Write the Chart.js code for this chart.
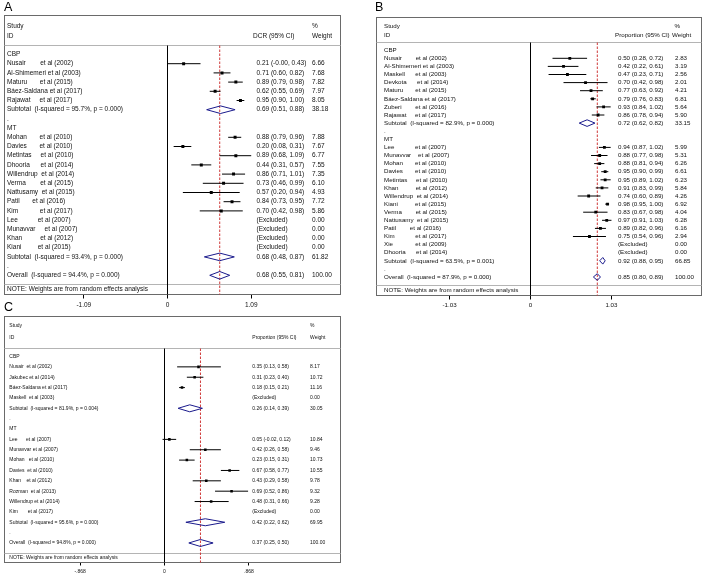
<!DOCTYPE html>
<html><head><meta charset="utf-8">
<script src="https://cdn.jsdelivr.net/npm/chart.js@4"></script>
<style>
html,body{margin:0;padding:0;background:#fff;width:704px;height:576px;overflow:hidden}
canvas{position:absolute;left:0;top:0;width:704px;height:576px}
</style></head><body>
<canvas id="cA" width="704" height="576"></canvas>
<canvas id="cB" width="704" height="576"></canvas>
<canvas id="cC" width="704" height="576"></canvas>
<script>
// ================= DATA =================
// Panel A : DCR
const aLabels = [
  'CBP',
  'Nusair        et al (2002)',
  'Al-Shimemeri et al (2003)',
  'Maturu       et al (2015)',
  'Báez-Saldana et al (2017)',
  'Rajawat     et al (2017)',
  'Subtotal  (I-squared = 95.7%, p = 0.000)',
  '.',
  'MT',
  'Mohan       et al (2010)',
  'Davies       et al (2010)',
  'Metintas     et al (2010)',
  'Dhooria      et al (2014)',
  'Willendrup  et al (2014)',
  'Verma        et al (2015)',
  'Nattusamy  et al (2015)',
  'Patil       et al (2016)',
  'Kim            et al (2017)',
  'Lee           et al (2007)',
  'Munavvar     et al (2007)',
  'Khan          et al (2012)',
  'Kiani         et al (2015)',
  'Subtotal  (I-squared = 93.4%, p = 0.000)',
  '.',
  'Overall  (I-squared = 94.4%, p = 0.000)'
];
const aKind = ['group','study','study','study','study','study','sub','dot','group',
  'study','study','study','study','study','study','study','study','study',
  'excl','excl','excl','excl','sub','dot','overall'];
const aEst = [null,0.21,0.71,0.89,0.62,0.95,0.69,null,null,0.88,0.20,0.89,0.44,0.86,0.73,0.57,0.84,0.70,null,null,null,null,0.68,null,0.68];
const aLo  = [null,-0.004,0.60,0.79,0.55,0.90,0.51,null,null,0.79,0.08,0.68,0.31,0.71,0.46,0.20,0.73,0.42,null,null,null,null,0.48,null,0.55];
const aHi  = [null,0.43,0.82,0.98,0.69,1.00,0.88,null,null,0.96,0.31,1.09,0.57,1.01,0.99,0.94,0.95,0.98,null,null,null,null,0.87,null,0.81];
const aWeight = [null,6.66,7.68,7.82,7.97,8.05,38.18,null,null,7.88,7.67,6.77,7.55,7.35,6.10,4.93,7.72,5.86,0,0,0,0,61.82,null,100];
const aTicks = [-1.09, 0, 1.09];
const aTickLabels = ['-1.09', '0', '1.09'];
const aOverall = 0.68;

// Panel B : Proportion
const bLabels = [
  'CBP',
  'Nusair        et al (2002)',
  'Al-Shimemeri et al (2003)',
  'Maskell      et al (2003)',
  'Devkota      et al (2014)',
  'Maturu       et al (2015)',
  'Báez-Saldana et al (2017)',
  'Zuberi        et al (2016)',
  'Rajawat     et al (2017)',
  'Subtotal  (I-squared = 82.9%, p = 0.000)',
  '.',
  'MT',
  'Lee            et al (2007)',
  'Munavvar    et al (2007)',
  'Mohan       et al (2010)',
  'Davies       et al (2010)',
  'Metintas     et al (2010)',
  'Khan          et al (2012)',
  'Willendrup  et al (2014)',
  'Kiani          et al (2015)',
  'Verma        et al (2015)',
  'Nattusamy  et al (2015)',
  'Patil        et al (2016)',
  'Kim            et al (2017)',
  'Xie             et al (2009)',
  'Dhooria      et al (2014)',
  'Subtotal  (I-squared = 63.5%, p = 0.001)',
  '.',
  'Overall  (I-squared = 87.9%, p = 0.000)'
];
const bKind = ['group','study','study','study','study','study','study','study','study','sub','dot','group',
  'study','study','study','study','study','study','study','study','study','study','study','study',
  'excl','excl','sub','dot','overall'];
const bEst = [null,0.50,0.42,0.47,0.70,0.77,0.79,0.93,0.86,0.72,null,null,0.94,0.88,0.88,0.95,0.95,0.91,0.74,0.98,0.83,0.97,0.89,0.75,null,null,0.92,null,0.85];
const bLo  = [null,0.28,0.22,0.23,0.42,0.63,0.76,0.84,0.78,0.62,null,null,0.87,0.77,0.81,0.90,0.89,0.83,0.60,0.95,0.67,0.91,0.82,0.54,null,null,0.88,null,0.80];
const bHi  = [null,0.72,0.61,0.71,0.98,0.92,0.83,1.02,0.94,0.82,null,null,1.02,0.98,0.94,0.99,1.02,0.99,0.89,1.00,0.98,1.03,0.96,0.96,null,null,0.95,null,0.89];
const bWeight = [null,2.83,3.19,2.56,2.01,4.21,6.81,5.64,5.90,33.15,null,null,5.99,5.31,6.26,6.61,6.23,5.84,4.26,6.92,4.04,6.28,6.16,2.94,0,0,66.85,null,100];
const bTicks = [-1.03, 0, 1.03];
const bTickLabels = ['-1.03', '0', '1.03'];
const bOverall = 0.85;

// Panel C : Proportion
const cLabels = [
  'CBP',
  'Nusair  et al (2002)',
  'Jakubec et al (2014)',
  'Báez-Saldana et al (2017)',
  'Maskell  et al (2003)',
  'Subtotal  (I-squared = 81.9%, p = 0.004)',
  '.',
  'MT',
  'Lee      et al (2007)',
  'Munavvar et al (2007)',
  'Mohan   et al (2010)',
  'Davies  et al (2010)',
  'Khan    et al (2012)',
  'Rozman  et al (2013)',
  'Willendrup et al (2014)',
  'Kim       et al (2017)',
  'Subtotal  (I-squared = 95.6%, p = 0.000)',
  '.',
  'Overall  (I-squared = 94.8%, p = 0.000)'
];
const cKind = ['group','study','study','study','excl','sub','dot','group',
  'study','study','study','study','study','study','study','excl','sub','dot','overall'];
const cEst = [null,0.35,0.31,0.18,null,0.26,null,null,0.05,0.42,0.23,0.67,0.43,0.69,0.48,null,0.42,null,0.37];
const cLo  = [null,0.13,0.23,0.15,null,0.14,null,null,-0.02,0.26,0.15,0.58,0.29,0.52,0.31,null,0.22,null,0.25];
const cHi  = [null,0.58,0.40,0.21,null,0.39,null,null,0.12,0.58,0.31,0.77,0.58,0.86,0.66,null,0.62,null,0.50];
const cWeight = [null,8.17,10.72,11.16,0,30.05,null,null,10.84,9.46,10.73,10.55,9.78,9.32,9.28,0,69.95,null,100];
const cTicks = [-0.868, 0, 0.868];
const cTickLabels = ['-.868', '0', '.868'];
const cOverall = 0.37;

// ================= DRAWING =================
const FONT = '"Liberation Sans", Arial, Helvetica, sans-serif';
const fnt = s => s + 'px ' + FONT;
const fmt = v => v.toFixed(2);

function makePanel(id, d, L) {
  const f = L.frame;
  const xMin = (f.l - L.zeroPx) / L.unitPx, xMax = (f.r - L.zeroPx) / L.unitPx;
  const yMin = (f.t - L.row0) / L.pitch, yMax = (f.b - L.row0) / L.pitch;
  const pts = [];
  d.kind.forEach((k, i) => { if (k === 'study' && d.est[i] != null) pts.push({x: d.est[i], y: i}); });

  const plugin = {
    id: 'forest' + id,
    beforeDatasetsDraw(chart) {
      const ctx = chart.ctx, xs = chart.scales.x, ys = chart.scales.y;
      ctx.save();
      ctx.lineWidth = 1;
      // frame
      ctx.strokeStyle = '#6a6a6a';
      ctx.strokeRect(f.l, f.t, f.r - f.l, f.b - f.t);
      // separators
      ctx.strokeStyle = '#b4b4b4';
      ctx.beginPath();
      ctx.moveTo(f.l, L.sep); ctx.lineTo(f.r, L.sep);
      ctx.moveTo(f.l, L.noteSep); ctx.lineTo(f.r, L.noteSep);
      ctx.stroke();
      // zero line
      const x0 = xs.getPixelForValue(0);
      ctx.strokeStyle = '#000';
      ctx.beginPath(); ctx.moveTo(x0, L.sep); ctx.lineTo(x0, f.b); ctx.stroke();
      // overall dashed line
      const xo = xs.getPixelForValue(d.overall);
      ctx.strokeStyle = '#cf3a3a';
      ctx.setLineDash([2.5, 1.5]);
      ctx.beginPath(); ctx.moveTo(xo, L.sep); ctx.lineTo(xo, f.b); ctx.stroke();
      ctx.setLineDash([]);
      // CI lines & diamonds
      d.kind.forEach((k, i) => {
        const y = ys.getPixelForValue(i);
        if (k === 'study' && d.est[i] != null) {
          ctx.strokeStyle = '#000';
          ctx.beginPath();
          ctx.moveTo(xs.getPixelForValue(d.lo[i]), y);
          ctx.lineTo(xs.getPixelForValue(d.hi[i]), y);
          ctx.stroke();
        } else if ((k === 'sub' || k === 'overall') && d.est[i] != null) {
          const h = L.diamondH;
          ctx.strokeStyle = '#1a1a8c';
          ctx.beginPath();
          ctx.moveTo(xs.getPixelForValue(d.lo[i]), y);
          ctx.lineTo(xs.getPixelForValue(d.est[i]), y - h);
          ctx.lineTo(xs.getPixelForValue(d.hi[i]), y);
          ctx.lineTo(xs.getPixelForValue(d.est[i]), y + h);
          ctx.closePath();
          ctx.stroke();
        }
      });
      // texts
      ctx.fillStyle = '#111';
      ctx.textBaseline = 'middle';
      ctx.textAlign = 'left';
      ctx.font = fnt(L.font);
      ctx.fillText('Study', L.textX, L.studyY);
      ctx.fillText('ID', L.textX, L.idY);
      ctx.fillText(d.ciHeader, L.ciHX, L.idY);
      ctx.fillText('%', L.pctX, L.studyY);
      ctx.fillText('Weight', L.wHX, L.idY);
      d.labels.forEach((lab, i) => {
        const y = ys.getPixelForValue(i);
        ctx.fillText(lab, L.textX, y);
        if (d.est[i] != null) {
          ctx.fillText(fmt(d.est[i]) + ' (' + fmt(d.lo[i]) + ', ' + fmt(d.hi[i]) + ')', L.ciX, y);
        } else if (d.kind[i] === 'excl') {
          ctx.fillText('(Excluded)', L.ciX, y);
        }
        if (d.weight[i] != null) ctx.fillText(fmt(d.weight[i]), L.wX, y);
      });
      ctx.fillText('NOTE: Weights are from random effects analysis', L.textX, L.noteY);
      // panel letter
      ctx.fillStyle = '#000';
      ctx.font = fnt(12.5);
      ctx.fillText(d.letter, L.letterX, L.letterY);
      ctx.restore();
    }
  };

  return new Chart(document.getElementById(id), {
    type: 'scatter',
    data: { datasets: [{
      data: pts, pointStyle: 'rect', pointRadius: L.markR, pointHoverRadius: L.markR,
      backgroundColor: '#000', borderColor: '#000', borderWidth: 0
    }]},
    options: {
      responsive: false, animation: false, events: [],
      layout: { padding: { left: f.l, top: f.t, right: 704 - f.r, bottom: 576 - f.b - L.axisH } },
      plugins: { legend: { display: false }, tooltip: { enabled: false } },
      scales: {
        x: {
          type: 'linear', min: xMin, max: xMax, position: 'bottom',
          afterBuildTicks: ax => { ax.ticks = d.ticks.map(v => ({ value: v })); },
          afterFit: ax => { ax.height = L.axisH; ax.paddingLeft = 0; ax.paddingRight = 0; },
          ticks: {
            autoSkip: false, maxRotation: 0, minRotation: 0, padding: L.tickPad, color: '#111',
            font: { family: FONT, size: L.tickFont },
            callback: (v, idx) => d.tickLabels[idx]
          },
          grid: { drawOnChartArea: false, drawTicks: true, tickLength: L.tickLen, color: '#000', lineWidth: 1 },
          border: { display: false }
        },
        y: { type: 'linear', display: false, reverse: true, min: yMin, max: yMax }
      }
    },
    plugins: [plugin]
  });
}

makePanel('cA',
  { labels: aLabels, kind: aKind, est: aEst, lo: aLo, hi: aHi, weight: aWeight,
    ticks: aTicks, tickLabels: aTickLabels, overall: aOverall, ciHeader: 'DCR (95% CI)', letter: 'A' },
  { frame: { l: 4.5, t: 15.5, r: 340.5, b: 294.5 }, zeroPx: 167.5, unitPx: 76.8,
    row0: 54.5, pitch: 9.2, sep: 45.5, noteSep: 284.5, noteY: 289.5,
    studyY: 26, idY: 36.5, textX: 7, ciX: 256.5, ciHX: 253, wX: 312, wHX: 312, pctX: 312,
    font: 6.5, letterX: 4, letterY: 7.5, diamondH: 3.8, markR: 2.1,
    tickLen: 4, tickPad: 2.5, tickFont: 6.5, axisH: 14.5 });

makePanel('cB',
  { labels: bLabels, kind: bKind, est: bEst, lo: bLo, hi: bHi, weight: bWeight,
    ticks: bTicks, tickLabels: bTickLabels, overall: bOverall, ciHeader: 'Proportion (95% CI)', letter: 'B' },
  { frame: { l: 376.5, t: 17.5, r: 701.5, b: 295.5 }, zeroPx: 530.5, unitPx: 78.6,
    row0: 50.2, pitch: 8.1, sep: 42.5, noteSep: 285.5, noteY: 290.4,
    studyY: 26.5, idY: 35.3, textX: 384, ciX: 618, ciHX: 615, wX: 675, wHX: 672, pctX: 674.5,
    font: 6.2, letterX: 375, letterY: 8, diamondH: 3.3, markR: 2.0,
    tickLen: 4, tickPad: 2, tickFont: 6.2, axisH: 14 });

makePanel('cC',
  { labels: cLabels, kind: cKind, est: cEst, lo: cLo, hi: cHi, weight: cWeight,
    ticks: cTicks, tickLabels: cTickLabels, overall: cOverall, ciHeader: 'Proportion (95% CI)', letter: 'C' },
  { frame: { l: 4.5, t: 316.5, r: 340.5, b: 562.5 }, zeroPx: 164.5, unitPx: 97.2,
    row0: 356.5, pitch: 10.36, sep: 348.5, noteSep: 553.5, noteY: 557.7,
    studyY: 325.5, idY: 337.5, textX: 9.3, ciX: 252.3, ciHX: 252.3, wX: 310, wHX: 310, pctX: 310,
    font: 5, letterX: 4, letterY: 308, diamondH: 3.5, markR: 1.8,
    tickLen: 3, tickPad: 3.5, tickFont: 5, axisH: 12.5 });
</script>
</body></html>
